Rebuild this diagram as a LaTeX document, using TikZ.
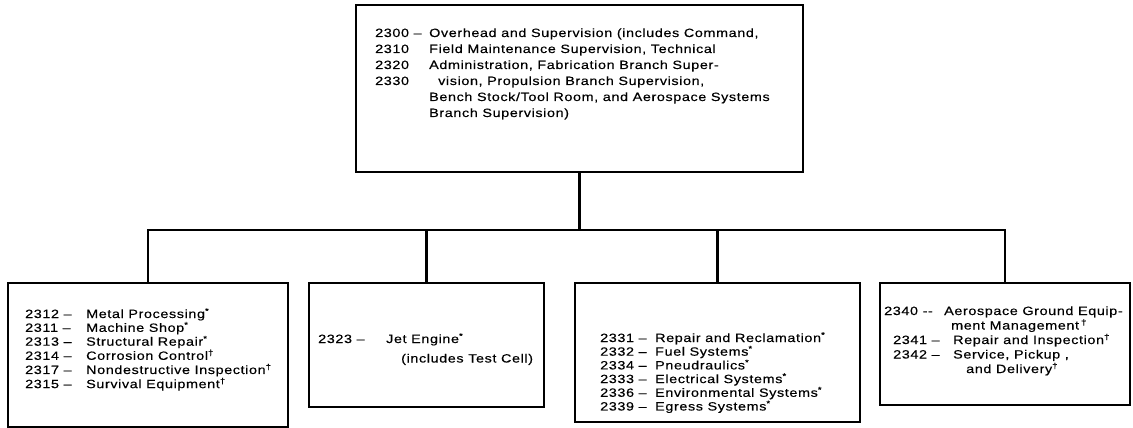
\documentclass[tikz,border=0pt]{standalone}
\usepackage{fontspec}
\setmainfont{Liberation Sans}[FakeStretch=1.2,LetterSpace=5,FakeBold=0.3]
\usepackage{tikz}

\begin{document}
\begin{tikzpicture}[x=1pt,y=-1pt,
	every node/.style={font=\fontsize{12}{13.3}\selectfont},
	unit/.style={draw, line width=1.6pt, inner sep=0pt},
	txt/.style={anchor=base west, inner sep=0pt},
	link/.style={line width=2.2pt}]
	\useasboundingbox (0,0) rectangle (1133,428);
	\node[unit, minimum width=447, minimum height=167] (top) at (579.5,88.5) {};
	\node[unit, minimum width=280, minimum height=144] (shops) at (148,355) {};
	\node[unit, minimum width=235, minimum height=124] (engine) at (426.5,345) {};
	\node[unit, minimum width=285, minimum height=139] (systems) at (717.5,352.5) {};
	\node[unit, minimum width=250, minimum height=122] (age) at (1005,344) {};
	\node[txt, font=\fontsize{12}{16}\selectfont] (toptxt) at (375,37) {\begin{tabular}[t]{@{}p{54pt}@{}l@{}}
		2300 -- & Overhead and Supervision (includes Command,\\
		2310 & Field Maintenance Supervision, Technical\\
		2320 & Administration, Fabrication Branch Super-\\
		2330 & \hspace{9pt}vision, Propulsion Branch Supervision,\\
		& Bench Stock/Tool Room, and Aerospace Systems\\
		& Branch Supervision)
	\end{tabular}};
	\node[txt] (shopstxt) at (25,318) {\begin{tabular}[t]{@{}p{61pt}@{}l@{}}
		2312 -- & Metal Processing\textsuperscript{*}\\
		2311 -- & Machine Shop\textsuperscript{*}\\
		2313 -- & Structural Repair\textsuperscript{*}\\
		2314 -- & Corrosion Control\textsuperscript{†}\\
		2317 -- & Nondestructive Inspection\textsuperscript{†}\\
		2315 -- & Survival Equipment\textsuperscript{†}
	\end{tabular}};
	\node[txt, font=\fontsize{12}{19.5}\selectfont] (enginetxt) at (318,343) {\begin{tabular}[t]{@{}p{68pt}@{}l@{}}
		2323 -- & Jet Engine\textsuperscript{*}\\
		& \hspace{15pt}(includes Test Cell)
	\end{tabular}};
	\node[txt, font=\fontsize{12}{12.8}\selectfont] (systemstxt) at (600,342) {\begin{tabular}[t]{@{}p{55pt}@{}l@{}}
		2331 -- & Repair and Reclamation\textsuperscript{*}\\
		2332 -- & Fuel Systems\textsuperscript{*}\\
		2334 -- & Pneudraulics\textsuperscript{*}\\
		2333 -- & Electrical Systems\textsuperscript{*}\\
		2336 -- & Environmental Systems\textsuperscript{*}\\
		2339 -- & Egress Systems\textsuperscript{*}
	\end{tabular}};
	\node[txt, font=\fontsize{12}{14.5}\selectfont] (agetxt) at (884,315) {\begin{tabular}[t]{@{}p{60pt}@{}l@{}}
		2340 -{}- & Aerospace Ground Equip-\\
		& \hspace{7pt}ment Management\,\textsuperscript{†}\\
		\hspace{9pt}2341 -- & \hspace{9pt}Repair and Inspection\textsuperscript{†}\\
		\hspace{9pt}2342 -- & \hspace{9pt}Service, Pickup ,\\
		& \hspace{22pt}and Delivery\textsuperscript{†}
	\end{tabular}};
	\draw[link] (top.south) -- ++(0,57) coordinate (bus);
	\draw[link] (shops.north) |- (bus) -| (age.north);
	\draw[link] (engine.north) -- (engine.north |- bus);
	\draw[link] (systems.north) -- (systems.north |- bus);
\end{tikzpicture}
\end{document}
